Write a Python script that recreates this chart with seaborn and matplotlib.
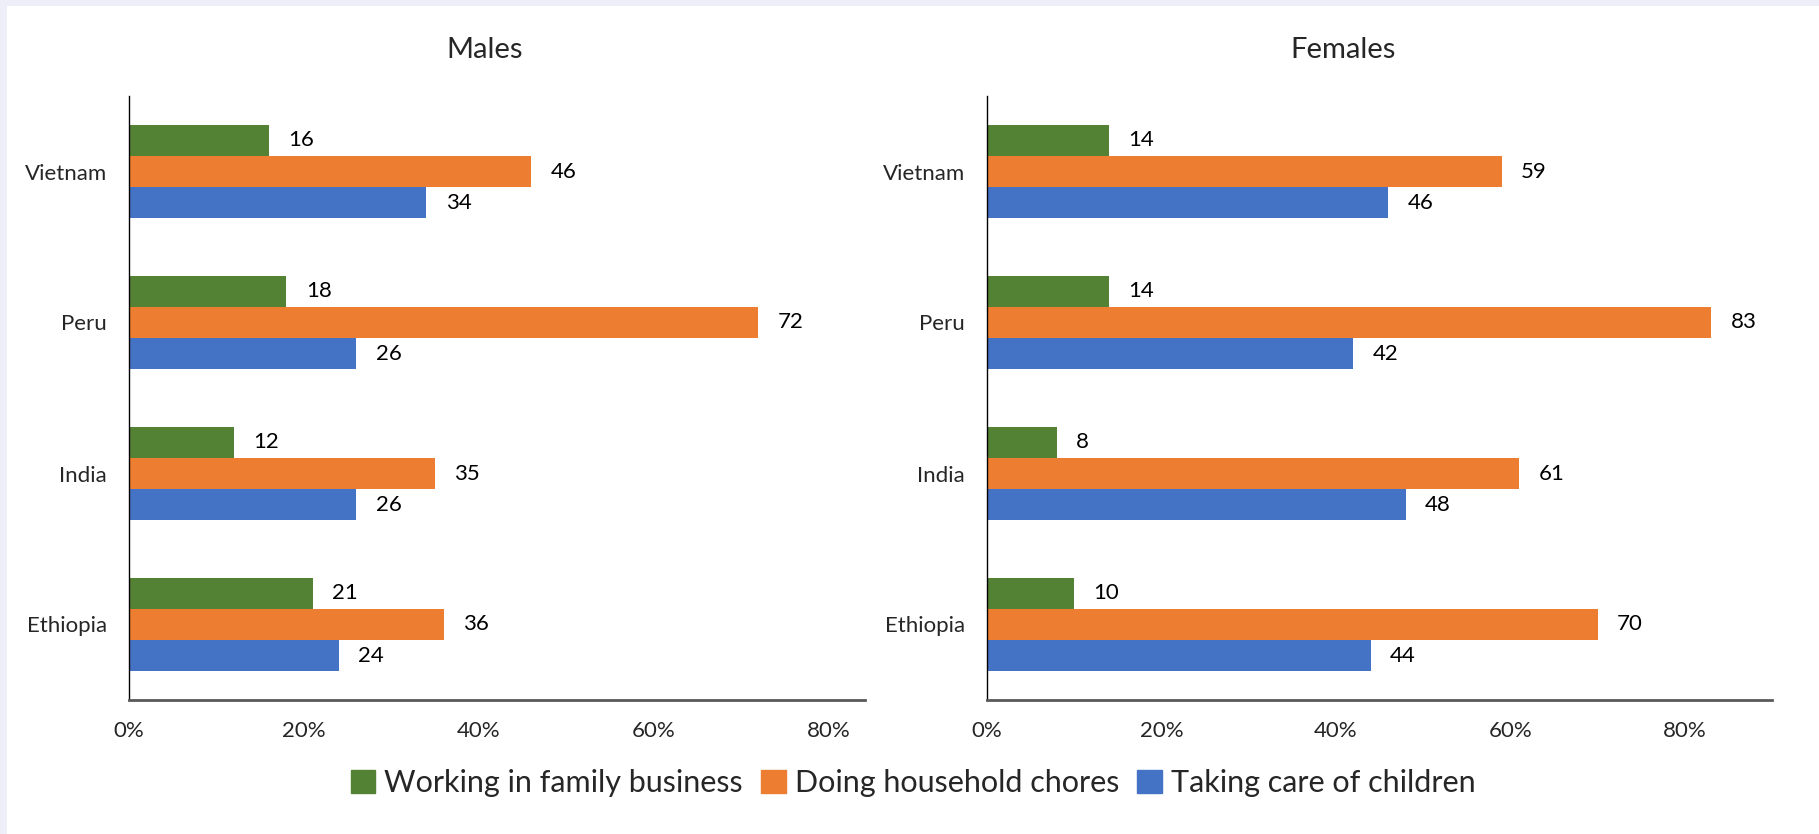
import matplotlib.pyplot as plt
import matplotlib.patches as mpatches
import seaborn as sns
import pandas as pd

countries = ["Vietnam", "Peru", "India", "Ethiopia"]
activities = ["Working in family business", "Doing household chores", "Taking care of children"]
colors = ["#548235", "#ED7D31", "#4472C4"]

males_business = [16, 18, 12, 21]
males_chores = [46, 72, 35, 36]
males_children = [34, 26, 26, 24]

females_business = [14, 14, 8, 10]
females_chores = [59, 83, 61, 70]
females_children = [46, 42, 48, 44]

xtick_vals = [0, 20, 40, 60, 80]
xtick_labels = ["0%", "20%", "40%", "60%", "80%"]


def build_df(business, chores, children):
    rows = []
    for act, vals in zip(activities, [business, chores, children]):
        for c, v in zip(countries, vals):
            rows.append({"Country": c, "Activity": act, "Value": v})
    return pd.DataFrame(rows)


sns.set_style("white")
plt.rcParams["font.family"] = ["Lato", "DejaVu Sans"]

fig = plt.figure(figsize=(18.19, 8.34), dpi=100)
fig.patch.set_facecolor("#EEEEF8")
fig.patches.append(mpatches.Rectangle((7 / 1819, 0), 1, 1 - 6 / 834, transform=fig.transFigure,
                                      facecolor="white", edgecolor="none", zorder=-1))

ax1 = fig.add_axes([129 / 1819, 1 - 700 / 834, (865 - 129) / 1819, (700 - 96) / 834])
ax2 = fig.add_axes([987 / 1819, 1 - 700 / 834, (1772 - 987) / 1819, (700 - 96) / 834])

panels = [
    (ax1, "Males", build_df(males_business, males_chores, males_children), 84.2, 485),
    (ax2, "Females", build_df(females_business, females_chores, females_children), 90, 1343),
]

for ax, title, df, xmax, title_x in panels:
    ax.set_facecolor("none")
    sns.barplot(data=df, y="Country", x="Value", hue="Activity", order=countries,
                hue_order=activities, palette=colors, orient="h", width=0.62,
                linewidth=0, saturation=1, legend=False, ax=ax)
    for cont in ax.containers:
        ax.bar_label(cont, labels=[f"{v:.0f}" for v in cont.datavalues], padding=14,
                     fontsize=16, color="black")
    ax.set_xlim(0, xmax)
    ax.set_ylim(3.5, -0.5)
    ax.set_xticks(xtick_vals)
    ax.set_xticklabels(xtick_labels, fontsize=16)
    ax.tick_params(axis="y", labelsize=16, length=0, pad=16)
    ax.tick_params(axis="x", length=0, pad=15)
    ax.set_xlabel("")
    ax.set_ylabel("")
    fig.text(title_x / 1819, 1 - 50 / 834, title, fontsize=21, ha="center", va="center")
    for s in ["top", "right"]:
        ax.spines[s].set_visible(False)
    ax.spines["left"].set_color("black")
    ax.spines["left"].set_linewidth(1.0)
    ax.spines["bottom"].set_color("#595959")
    ax.spines["bottom"].set_linewidth(2.0)

handles = [mpatches.Patch(color=c, label=a) for c, a in zip(colors, activities)]
fig.legend(handles=handles, loc="center", bbox_to_anchor=(0.502, 1 - 783 / 834), ncol=3,
           frameon=False, fontsize=22, handlelength=0.8, handleheight=0.8,
           handletextpad=0.3, columnspacing=0.6)

fig.savefig("out.png", dpi=100, facecolor=fig.get_facecolor())
